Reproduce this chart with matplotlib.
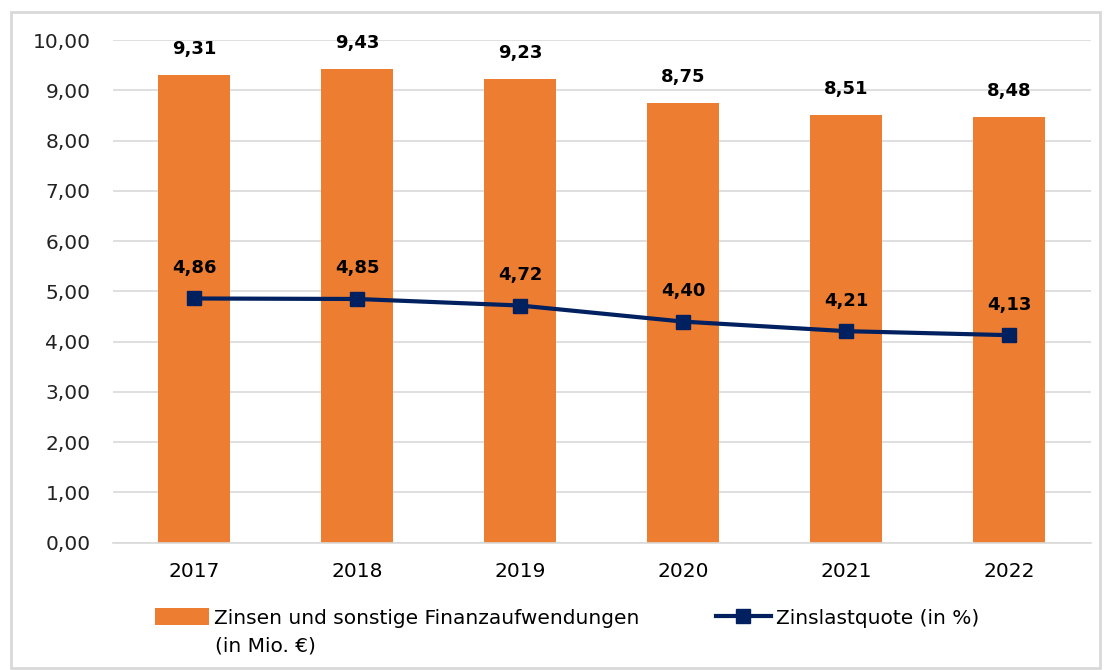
import matplotlib.pyplot as plt
import numpy as np
from matplotlib.patches import Rectangle

# Data
years = ['2017', '2018', '2019', '2020', '2021', '2022']
zinsen = [9.31, 9.43, 9.23, 8.75, 8.51, 8.48]
quote = [4.86, 4.85, 4.72, 4.40, 4.21, 4.13]

bar_color = '#ED7D31'
line_color = '#002060'


def de(v):
    return f'{v:.2f}'.replace('.', ',')


fig = plt.figure(figsize=(11.06, 6.7), dpi=100)
ax = fig.add_axes([0.102, 0.19, 0.884, 0.75])

x = np.arange(len(years))
bars = ax.bar(x, zinsen, width=0.44, color=bar_color, zorder=2)
line, = ax.plot(x, quote, color=line_color, lw=3, marker='s', markersize=10.5,
                zorder=3)

# Value labels
for xi, v in zip(x, zinsen):
    ax.text(xi, v + 0.33, de(v), ha='center', va='bottom',
            fontsize=13, fontweight='bold', color='black')
for xi, v in zip(x, quote):
    ax.text(xi, v + 0.43, de(v), ha='center', va='bottom',
            fontsize=13, fontweight='bold', color='black')

# Axes styling
ax.set_xlim(-0.5, len(years) - 0.5)
ax.set_ylim(0, 10)
yt = np.arange(0, 10.01, 1)
ax.set_yticks(yt)
ax.set_yticklabels([de(t) for t in yt], fontsize=14.5, color='#222222')
ax.set_xticks(x)
ax.set_xticklabels(years, fontsize=14.5, color='black')
ax.tick_params(axis='x', length=0, pad=14)
ax.tick_params(axis='y', length=0, pad=16)
ax.grid(axis='y', color='#D9D9D9', lw=1.2, zorder=0)
for side in ['top', 'right', 'left']:
    ax.spines[side].set_visible(False)
ax.spines['bottom'].set_color('#D9D9D9')
ax.spines['bottom'].set_linewidth(1.2)

# Legend
fig.legend([bars, line],
           ['Zinsen und sonstige Finanzaufwendungen', 'Zinslastquote (in %)'],
           loc='upper left', bbox_to_anchor=(0.140, 0.092),
           ncol=2, frameon=False, prop={'size': 14.5},
           handlelength=2.7, handleheight=0.9, columnspacing=3.8,
           handletextpad=0.25, borderpad=0, borderaxespad=0)
fig.text(215 / 1106, 1 - 646 / 670, '(in Mio. €)', fontsize=14.5,
         ha='left', va='center', color='black')

# Outer border
fig.patches.append(Rectangle((0.01, 0.003), 0.985, 0.979, transform=fig.transFigure,
                             fill=False, edgecolor='#D9D9D9', lw=2))

fig.savefig('out.png', dpi=100)
